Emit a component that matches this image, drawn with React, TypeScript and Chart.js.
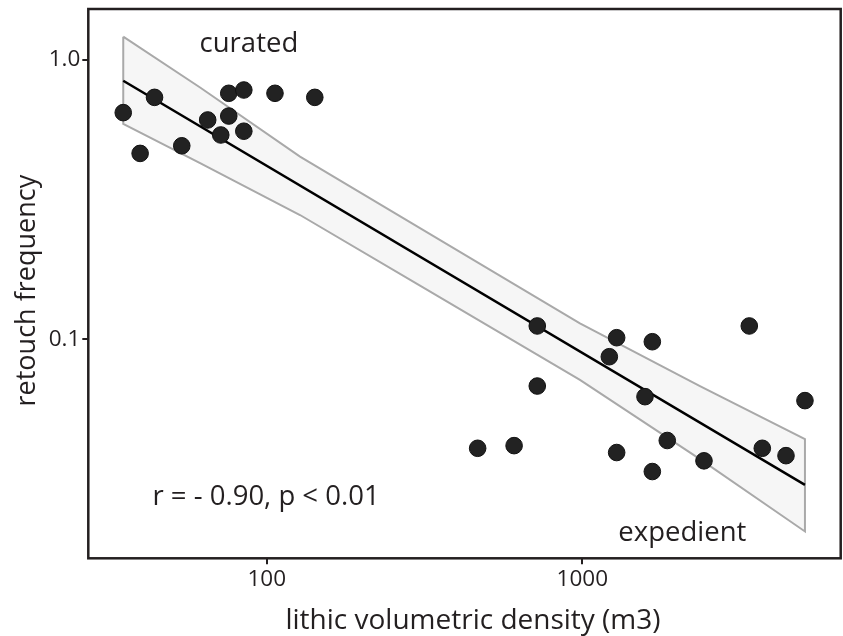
import React, { useEffect, useRef } from 'react';
import { Chart, registerables } from 'chart.js';

Chart.register(...registerables);

// Observed points (lithic volumetric density vs retouch frequency)
const densityX = [35.1, 39.7, 44.1, 53.8, 65.0, 71.5, 75.8, 75.8, 84.6, 84.6, 106.2, 142.0, 466, 608, 720, 720, 1218, 1285, 1285, 1580, 1667, 1667, 1859, 2430, 3382, 3719, 4421, 5077];
const retouchY = [0.648, 0.463, 0.735, 0.493, 0.610, 0.539, 0.630, 0.760, 0.556, 0.781, 0.760, 0.735, 0.0407, 0.0416, 0.1116, 0.0680, 0.0866, 0.1013, 0.0393, 0.0623, 0.0980, 0.0336, 0.0434, 0.0367, 0.1116, 0.0407, 0.0383, 0.0603];

// Regression line end points
const fitX = [35.1, 5077];
const fitY = [0.843, 0.0301];

// Confidence band (read at several x positions)
const bandX = [35.1, 61.5, 127.5, 306, 983, 2360, 5077];
const bandUpper = [1.212, 0.797, 0.4506, 0.2501, 0.1141, 0.0680, 0.0439];
const bandLower = [0.590, 0.427, 0.2786, 0.1555, 0.0715, 0.0372, 0.0205];

// Axes
const xRange = [27.2, 6590];
const yRange = [0.01643, 1.523];
const xTicks = [100, 1000];
const xTickLabels = ['100', '1000'];
const yTicks = [0.1, 1];
const yTickLabels = ['0.1', '1.0'];

const xTitle = 'lithic volumetric density (m3)';
const yTitle = 'retouch frequency';

// Text annotations anchored in data space
const noteText = ['curated', 'expedient', 'r = - 0.90, p < 0.01'];
const noteX = [87.8, 2075, 99.5];
const noteY = [1.071, 0.0190, 0.0255];

const INK = '#231f20';
const FONT = '"Open Sans", "DejaVu Sans", sans-serif';

export default function App() {
  const ref = useRef<HTMLCanvasElement | null>(null);

  useEffect(() => {
    let chart: Chart | null = null;
    let cancelled = false;

    const build = () => {
      if (cancelled || !ref.current) return;
      const points = densityX.map((x, i) => ({ x, y: retouchY[i] }));
      const fit = fitX.map((x, i) => ({ x, y: fitY[i] }));
      const poly = [
        ...bandX.map((x, i) => ({ x, y: bandUpper[i] })),
        ...bandX.map((x, i) => ({ x, y: bandLower[i] })).reverse(),
        { x: bandX[0], y: bandUpper[0] },
      ];

      const decor = {
        id: 'decor',
        afterDraw(c: any) {
          const { ctx, chartArea: a, scales } = c;
          const xs = scales.x;
          const ys = scales.y;
          ctx.save();
          ctx.strokeStyle = INK;
          ctx.lineWidth = 2.5;
          ctx.strokeRect(a.left, a.top, a.right - a.left, a.bottom - a.top);

          ctx.fillStyle = INK;
          ctx.textAlign = 'center';
          ctx.textBaseline = 'alphabetic';
          ctx.font = `27.5px ${FONT}`;
          noteText.forEach((t, i) => {
            ctx.fillText(t, xs.getPixelForValue(noteX[i]), ys.getPixelForValue(noteY[i]));
          });

          ctx.font = `28px ${FONT}`;
          ctx.fillText(xTitle, (a.left + a.right) / 2 + 8.5, c.height - 6.7);

          ctx.font = `27px ${FONT}`;
          ctx.translate(35, (a.top + a.bottom) / 2 + 7);
          ctx.rotate(-Math.PI / 2);
          ctx.fillText(yTitle, 0, 0);
          ctx.restore();
        },
      };

      chart = new Chart(ref.current, {
        type: 'scatter',
        data: {
          datasets: [
            {
              label: 'sites',
              data: points,
              pointRadius: 8.3,
              pointHoverRadius: 8.3,
              pointBackgroundColor: '#222222',
              pointBorderColor: '#111111',
              pointBorderWidth: 1,
              showLine: false,
              order: 0,
            },
            {
              label: 'fit',
              data: fit,
              showLine: true,
              borderColor: '#000000',
              borderWidth: 2.5,
              pointRadius: 0,
              fill: false,
              order: 1,
            },
            {
              label: 'band',
              data: poly,
              showLine: true,
              borderColor: '#a9a9a9',
              borderWidth: 2,
              backgroundColor: '#f6f6f6',
              fill: 'shape',
              pointRadius: 0,
              order: 2,
            },
          ],
        },
        options: {
          animation: false,
          responsive: false,
          events: [],
          layout: { autoPadding: false, padding: { top: 9, right: 2.3, left: 0, bottom: 0 } },
          plugins: { legend: { display: false }, tooltip: { enabled: false } },
          scales: {
            x: {
              type: 'logarithmic',
              min: xRange[0],
              max: xRange[1],
              border: { display: false },
              grid: { display: true, drawOnChartArea: false, drawTicks: true, tickLength: 6, color: INK, lineWidth: 2 },
              ticks: {
                font: { family: FONT, size: 22.5 },
                color: INK,
                padding: 2,
                autoSkip: false,
                maxRotation: 0,
                callback: (v: any) => {
                  const i = xTicks.indexOf(Number(v));
                  return i >= 0 ? xTickLabels[i] : '';
                },
              },
              afterBuildTicks: (s: any) => {
                s.ticks = xTicks.map((v) => ({ value: v }));
              },
              afterFit: (s: any) => {
                s.height = 77.7;
                s.paddingLeft = 0;
                s.paddingRight = 0;
              },
            },
            y: {
              type: 'logarithmic',
              min: yRange[0],
              max: yRange[1],
              border: { display: false },
              grid: { display: true, drawOnChartArea: false, drawTicks: true, tickLength: 6, color: INK, lineWidth: 2 },
              ticks: {
                font: { family: FONT, size: 22.5 },
                color: INK,
                padding: 2,
                autoSkip: false,
                callback: (v: any) => {
                  const i = yTicks.indexOf(Number(v));
                  return i >= 0 ? yTickLabels[i] : '';
                },
              },
              afterBuildTicks: (s: any) => {
                s.ticks = yTicks.map((v) => ({ value: v }));
              },
              afterFit: (s: any) => {
                s.width = 88.3;
                s.paddingTop = 0;
                s.paddingBottom = 0;
              },
            },
          },
        },
        plugins: [decor],
      });
    };

    const fonts: any = (document as any).fonts;
    if (fonts && fonts.load) {
      Promise.all([fonts.load(`27px "Open Sans"`), fonts.load(`22px "Open Sans"`)])
        .catch(() => null)
        .then(build);
    } else {
      build();
    }

    return () => {
      cancelled = true;
      if (chart) chart.destroy();
    };
  }, []);

  return (
    <div style={{ position: 'absolute', left: 0, top: 0, width: 843, height: 636, background: '#fff' }}>
      <canvas ref={ref} width={843} height={636} style={{ display: 'block' }} />
    </div>
  );
}
